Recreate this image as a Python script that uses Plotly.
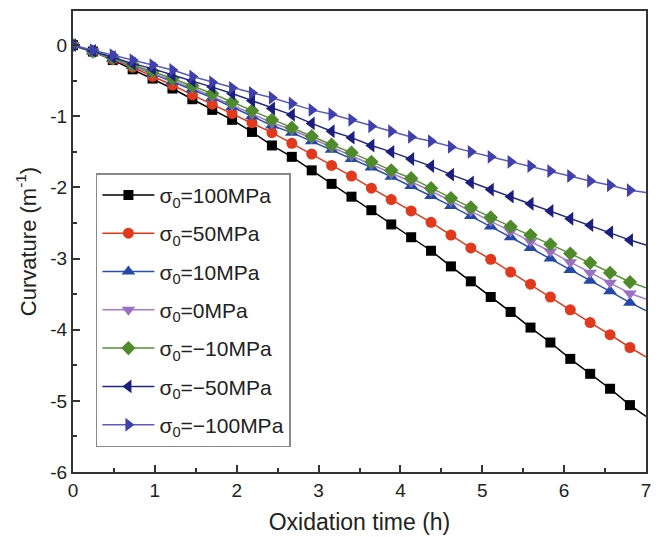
import plotly.graph_objects as go

# ---- data ----
time_h = [0, 0.243, 0.486, 0.729, 0.972, 1.215, 1.458, 1.701, 1.944, 2.187,
          2.43, 2.673, 2.916, 3.159, 3.402, 3.645, 3.888, 4.131, 4.374, 4.617,
          4.86, 5.103, 5.346, 5.589, 5.832, 6.075, 6.318, 6.561, 6.804]
end_time = 7.0

s100 = [0, -0.09, -0.21, -0.34, -0.47, -0.61, -0.76, -0.91, -1.05, -1.22,
        -1.41, -1.57, -1.76, -1.95, -2.13, -2.32, -2.52, -2.70, -2.89, -3.11,
        -3.32, -3.54, -3.75, -3.97, -4.18, -4.41, -4.62, -4.83, -5.06]
s50 = [0, -0.09, -0.20, -0.31, -0.44, -0.56, -0.70, -0.83, -0.96, -1.09,
       -1.23, -1.38, -1.53, -1.69, -1.84, -2.01, -2.17, -2.33, -2.49, -2.67,
       -2.85, -3.01, -3.19, -3.36, -3.54, -3.72, -3.90, -4.07, -4.25]
s10 = [0, -0.09, -0.19, -0.29, -0.40, -0.51, -0.62, -0.74, -0.87, -1.00,
       -1.13, -1.23, -1.35, -1.47, -1.60, -1.72, -1.85, -1.98, -2.12, -2.26,
       -2.40, -2.55, -2.70, -2.85, -3.00, -3.16, -3.31, -3.46, -3.62]
s0 = [0, -0.09, -0.19, -0.29, -0.39, -0.49, -0.60, -0.72, -0.84, -0.96,
      -1.09, -1.19, -1.31, -1.43, -1.55, -1.67, -1.80, -1.92, -2.05, -2.19,
      -2.33, -2.47, -2.62, -2.76, -2.90, -3.05, -3.20, -3.34, -3.49]
sm10 = [0, -0.09, -0.18, -0.28, -0.37, -0.47, -0.57, -0.68, -0.80, -0.92,
        -1.05, -1.16, -1.28, -1.40, -1.51, -1.64, -1.76, -1.87, -2.01, -2.15,
        -2.28, -2.42, -2.55, -2.67, -2.80, -2.93, -3.06, -3.20, -3.33]
sm50 = [0, -0.08, -0.17, -0.26, -0.33, -0.42, -0.50, -0.59, -0.68, -0.78,
        -0.89, -0.98, -1.10, -1.21, -1.30, -1.41, -1.50, -1.60, -1.70, -1.82,
        -1.93, -2.03, -2.13, -2.23, -2.33, -2.44, -2.53, -2.63, -2.74]
sm100 = [0, -0.07, -0.14, -0.21, -0.28, -0.35, -0.44, -0.52, -0.60, -0.67,
         -0.74, -0.82, -0.91, -0.97, -1.05, -1.14, -1.21, -1.29, -1.35, -1.43,
         -1.50, -1.57, -1.64, -1.70, -1.77, -1.84, -1.91, -1.97, -2.04]
end_values = [-5.22, -4.38, -3.73, -3.57, -3.41, -2.81, -2.07]

labels = ["σ<sub>0</sub>=100MPa", "σ<sub>0</sub>=50MPa", "σ<sub>0</sub>=10MPa",
          "σ<sub>0</sub>=0MPa", "σ<sub>0</sub>=−10MPa", "σ<sub>0</sub>=−50MPa",
          "σ<sub>0</sub>=−100MPa"]
series = [s100, s50, s10, s0, sm10, sm50, sm100]

x_ticks = [0, 1, 2, 3, 4, 5, 6, 7]
y_ticks = [0, -1, -2, -3, -4, -5, -6]
y_ticktext = ["0", "-1", "-2", "-3", "-4", "-5", "-6"]

# ---- styles ----
colors = ["#000000", "#e2381c", "#2348a6", "#9b6fc4", "#4f8a2b", "#1c1f80", "#3f3fae"]
line_colors = ["#000000", "#e2381c", "#2b4fb0", "#a47ccc", "#5a9236", "#22268a", "#5a5ac0"]
symbols = ["square", "circle", "triangle-up", "triangle-down", "diamond",
           "triangle-left", "triangle-right"]
sizes = [10, 11, 12, 12, 11, 12, 12]

FONT = "Arial, 'Liberation Sans', sans-serif"

fig = go.Figure()
for i, (lab, ys) in enumerate(zip(labels, series)):
    fig.add_trace(go.Scatter(
        x=[time_h[-1], end_time], y=[ys[-1], end_values[i]], mode="lines",
        line=dict(color=line_colors[i], width=1.5), showlegend=False,
        hoverinfo="skip", legendgroup=f"g{i}"))
    fig.add_trace(go.Scatter(
        x=time_h, y=ys, mode="lines+markers", name=lab, legendgroup=f"g{i}",
        line=dict(color=line_colors[i], width=1.5),
        marker=dict(symbol=symbols[i], size=sizes[i], color=colors[i],
                    line=dict(width=0))))

axis_common = dict(
    showline=True, linecolor="#333333", linewidth=2, mirror=True,
    ticks="inside", ticklen=7, tickwidth=1.5, tickcolor="#333333",
    showgrid=False, zeroline=False, automargin=False,
    tickfont=dict(family=FONT, size=19, color="#222222"),
)

fig.update_xaxes(
    range=[0, 7], tickvals=x_ticks,
    minor=dict(ticks="inside", ticklen=4, tickwidth=1.5, tickcolor="#333333", dtick=0.5),
    title=dict(text="Oxidation time (h)", font=dict(family=FONT, size=23, color="#222222"),
               standoff=14),
    **axis_common)
fig.update_yaxes(
    range=[-6, 0.48], tickvals=y_ticks, ticktext=y_ticktext,
    minor=dict(ticks="inside", ticklen=4, tickwidth=1.5, tickcolor="#333333", dtick=0.5),
    title=dict(text="Curvature (m<sup>-1</sup>)", font=dict(family=FONT, size=22, color="#222222"),
               standoff=8),
    **axis_common)

# page body has an 8px margin, so the figure is sized to fit the window
fig.update_layout(
    width=660, height=530,
    margin=dict(l=65, r=22, t=3, b=66),
    paper_bgcolor="white", plot_bgcolor="white",
    font=dict(family=FONT, color="#222222"),
    legend=dict(
        x=0.04, y=0.648, xanchor="left", yanchor="top",
        bgcolor="white", bordercolor="#888888", borderwidth=1.5,
        font=dict(family=FONT, size=21, color="#222222"),
        traceorder="grouped", tracegroupgap=8, itemwidth=52,
    ),
)

fig.write_html("out.html")
